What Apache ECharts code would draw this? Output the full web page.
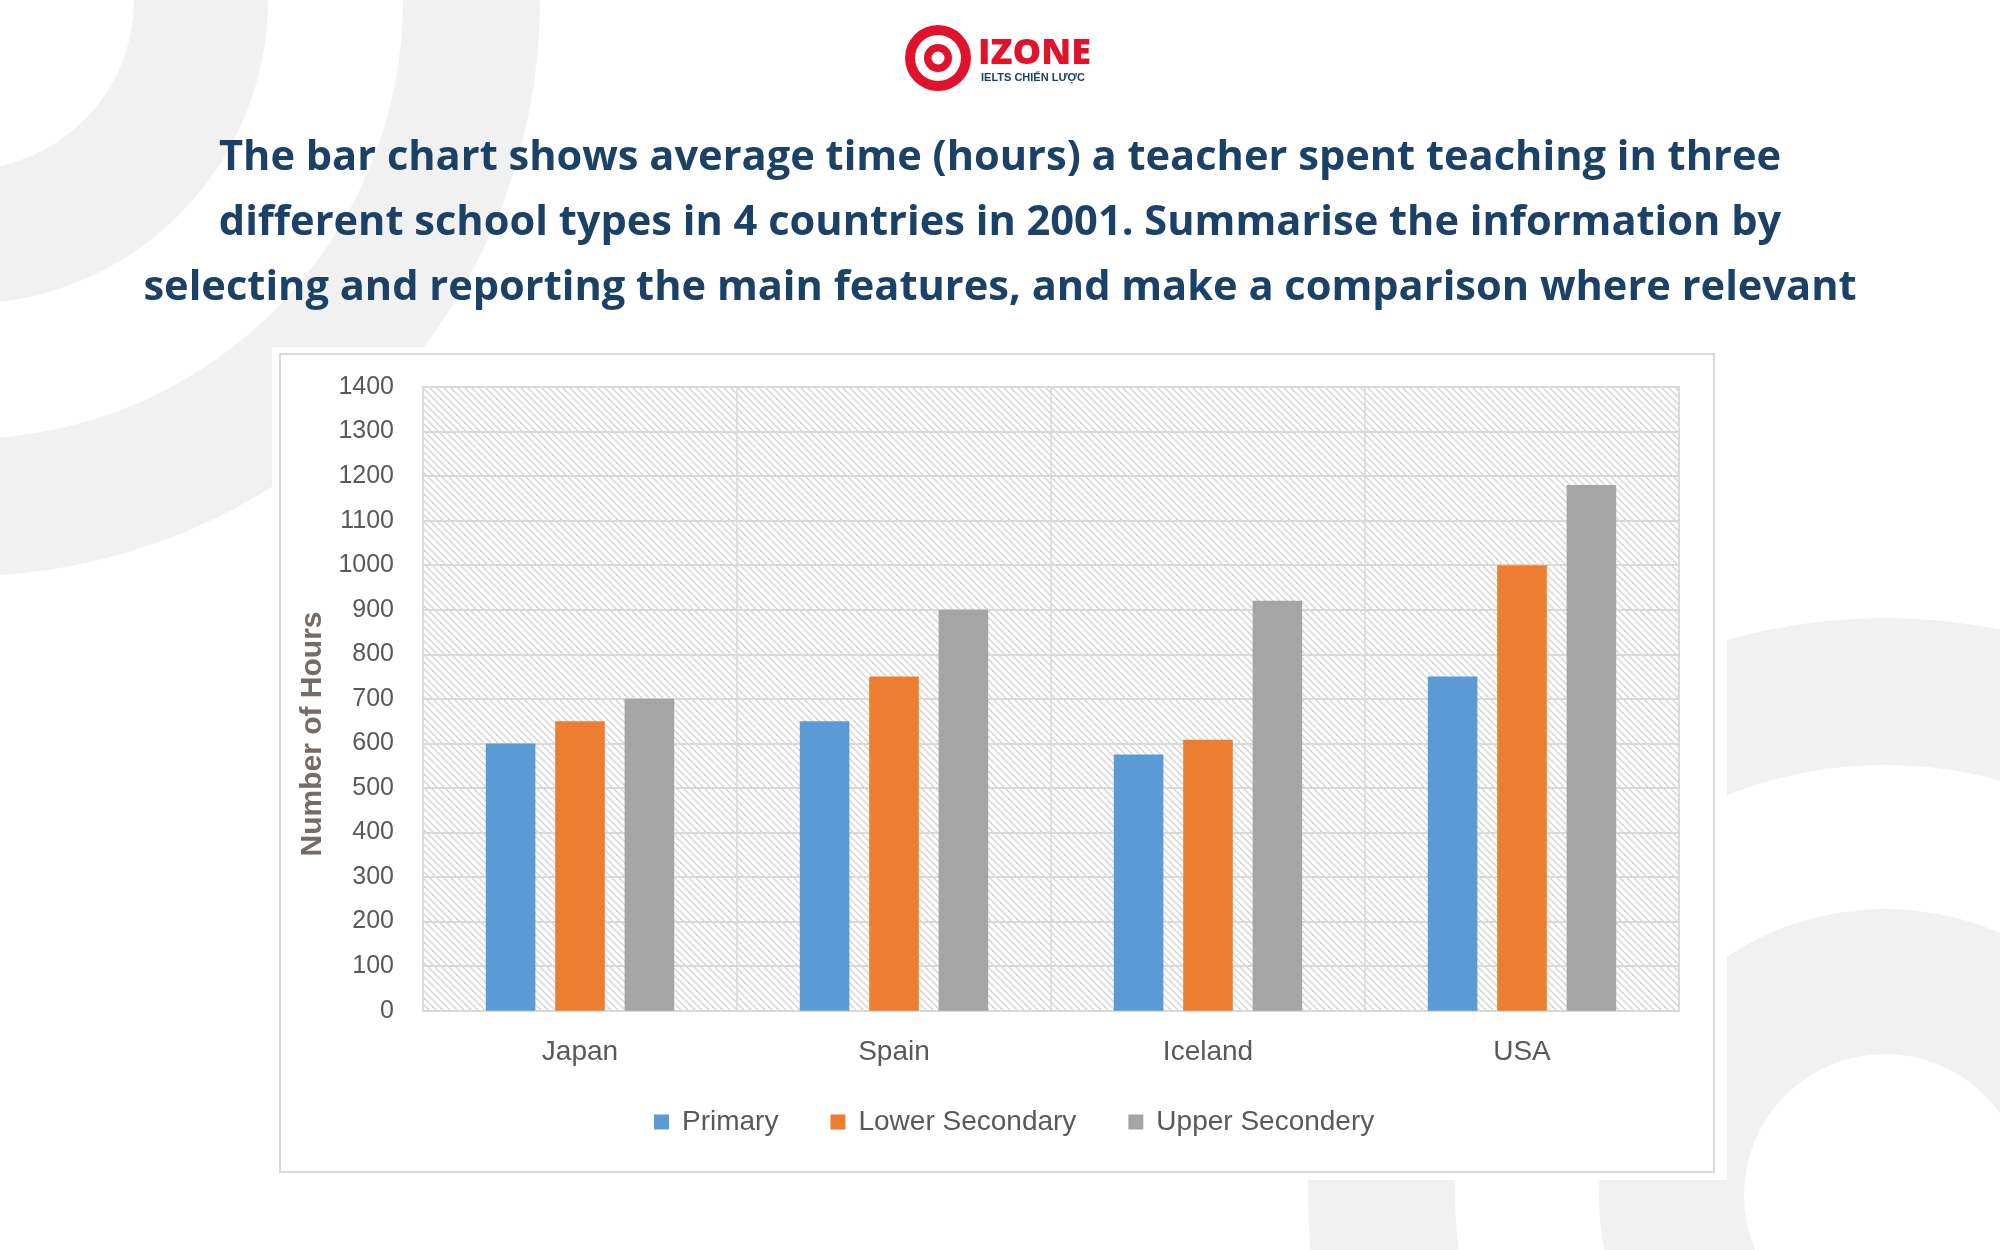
<!DOCTYPE html>
<html>
<head>
<meta charset="utf-8">
<script src="https://cdn.jsdelivr.net/npm/echarts@6/dist/echarts.min.js"></script>
<style>
html,body{margin:0;padding:0;background:#fff;}
#chart{width:2000px;height:1250px;}
</style>
</head>
<body>
<div id="chart"></div>
<script>
// ---- data ----
const countries = ['Japan', 'Spain', 'Iceland', 'USA'];
const seriesNames = ['Primary', 'Lower Secondary', 'Upper Secondery'];
const primary = [600, 650, 575, 750];
const lowerSecondary = [650, 750, 608, 1000];
const upperSecondary = [700, 900, 920, 1180];
const yMin = 0, yMax = 1400, yStep = 100;
const titleLines = [
  'The bar chart shows average time (hours) a teacher spent teaching in three',
  'different school types in 4 countries in 2001. Summarise the information by',
  'selecting and reporting the main features, and make a comparison where relevant'
];
const yAxisTitle = 'Number of Hours';

// ---- hatch pattern for plot area ----
function makeHatch() {
  const s = 7;
  const c = document.createElement('canvas');
  c.width = s; c.height = s;
  const g = c.getContext('2d');
  g.fillStyle = '#ffffff';
  g.fillRect(0, 0, s, s);
  g.strokeStyle = '#d4d4d4';
  g.lineWidth = 1.4;
  g.beginPath();
  g.moveTo(-1, -1); g.lineTo(s + 1, s + 1);
  g.moveTo(-1, s - 1); g.lineTo(1, s + 1);
  g.moveTo(s - 1, -1); g.lineTo(s + 1, 1);
  g.stroke();
  return c;
}

const colors = ['#5b9bd5', '#ed7d31', '#a5a5a5'];
const chart = echarts.init(document.getElementById('chart'), null, {renderer: 'canvas'});
const labelFont = '"Liberation Sans", Arial, sans-serif';
const grey = '#f1f1f1';

const option = {
  backgroundColor: '#ffffff',
  animation: false,
  color: colors,
  title: {
    text: titleLines.join('\n'),
    left: 'center',
    top: 121,
    textStyle: {
      color: '#1b4167',
      fontFamily: '"Open Sans", Lato, sans-serif',
      fontWeight: 'bold',
      fontSize: 41.6,
      lineHeight: 65
    }
  },
  graphic: [
    // background decorative rings
    {type: 'ring', z: -100, silent: true, shape: {cx: -36, cy: 0, r0: 170, r: 304}, style: {fill: grey}},
    {type: 'ring', z: -100, silent: true, shape: {cx: -36, cy: 0, r0: 439, r: 576}, style: {fill: grey}},
    {type: 'ring', z: -100, silent: true, shape: {cx: 1885, cy: 1195, r0: 141, r: 286}, style: {fill: grey}},
    {type: 'ring', z: -100, silent: true, shape: {cx: 1885, cy: 1195, r0: 430, r: 577}, style: {fill: grey}},
    // white backing and chart frame
    {type: 'rect', z: -90, silent: true, shape: {x: 272, y: 347, width: 1455, height: 833}, style: {fill: '#ffffff'}},
    {type: 'rect', z: -80, silent: true, shape: {x: 280, y: 354, width: 1434, height: 818}, style: {fill: '#ffffff', stroke: '#d9d9d9', lineWidth: 2}},
    // logo
    {type: 'circle', z: 10, silent: true, shape: {cx: 938, cy: 58, r: 33}, style: {fill: '#e0122c'}},
    {type: 'circle', z: 11, silent: true, shape: {cx: 938, cy: 58, r: 23}, style: {fill: '#ffffff'}},
    {type: 'circle', z: 12, silent: true, shape: {cx: 938, cy: 58, r: 14}, style: {fill: '#e0122c'}},
    {type: 'circle', z: 13, silent: true, shape: {cx: 938, cy: 58, r: 6.5}, style: {fill: '#ffffff'}},
    {type: 'polygon', z: 11, silent: true, shape: {points: [[958, 30], [972, 28], [966, 40]]}, style: {fill: '#ffffff'}},
    {type: 'text', z: 10, silent: true, left: 978, top: 36,
      style: {text: 'IZONE', fill: '#e0122c', font: '900 36px "Open Sans", "Liberation Sans", sans-serif'}},
    {type: 'text', z: 10, silent: true, left: 981, top: 72,
      style: {text: 'IELTS CHIẾN LƯỢC', fill: '#1b4167', font: 'bold 11px "Liberation Sans", sans-serif'}},
    // y axis title
    {type: 'text', z: 10, silent: true, x: 313, y: 734, rotation: Math.PI / 2,
      style: {text: yAxisTitle, fill: '#766b66', font: 'bold 30px "Liberation Sans", sans-serif',
        textAlign: 'center', textVerticalAlign: 'middle'}}
  ],
  legend: {
    data: seriesNames,
    left: 654,
    top: 1108,
    padding: 0,
    itemWidth: 15,
    itemHeight: 15,
    itemGap: 52,
    icon: 'rect',
    textStyle: {color: '#595959', fontSize: 28, fontFamily: labelFont, padding: [0, 0, 0, 8]}
  },
  grid: {
    left: 423, top: 387, right: 321, bottom: 239.3,
    show: true,
    borderColor: '#d9d9d9',
    borderWidth: 1.5,
    backgroundColor: {image: makeHatch(), repeat: 'repeat'},
    containLabel: false
  },
  xAxis: {
    type: 'category',
    data: countries,
    axisLine: {show: true, lineStyle: {color: '#d9d9d9', width: 1.5}},
    axisTick: {show: false},
    splitLine: {show: true, lineStyle: {color: '#d9d9d9', width: 1.5}},
    axisLabel: {color: '#595959', fontSize: 28, fontFamily: labelFont, margin: 28}
  },
  yAxis: {
    type: 'value',
    min: yMin, max: yMax, interval: yStep,
    axisLine: {show: false},
    axisTick: {show: false},
    splitLine: {show: true, lineStyle: {color: '#d9d9d9', width: 2}},
    axisLabel: {color: '#595959', fontSize: 25, fontFamily: labelFont, margin: 29,
      formatter: function (v) { return String(v); }}
  },
  series: [
    {name: seriesNames[0], type: 'bar', data: primary, barGap: '40%', barCategoryGap: '40%'},
    {name: seriesNames[1], type: 'bar', data: lowerSecondary, barGap: '40%', barCategoryGap: '40%'},
    {name: seriesNames[2], type: 'bar', data: upperSecondary, barGap: '40%', barCategoryGap: '40%'}
  ]
};
chart.setOption(option);
</script>
</body>
</html>
